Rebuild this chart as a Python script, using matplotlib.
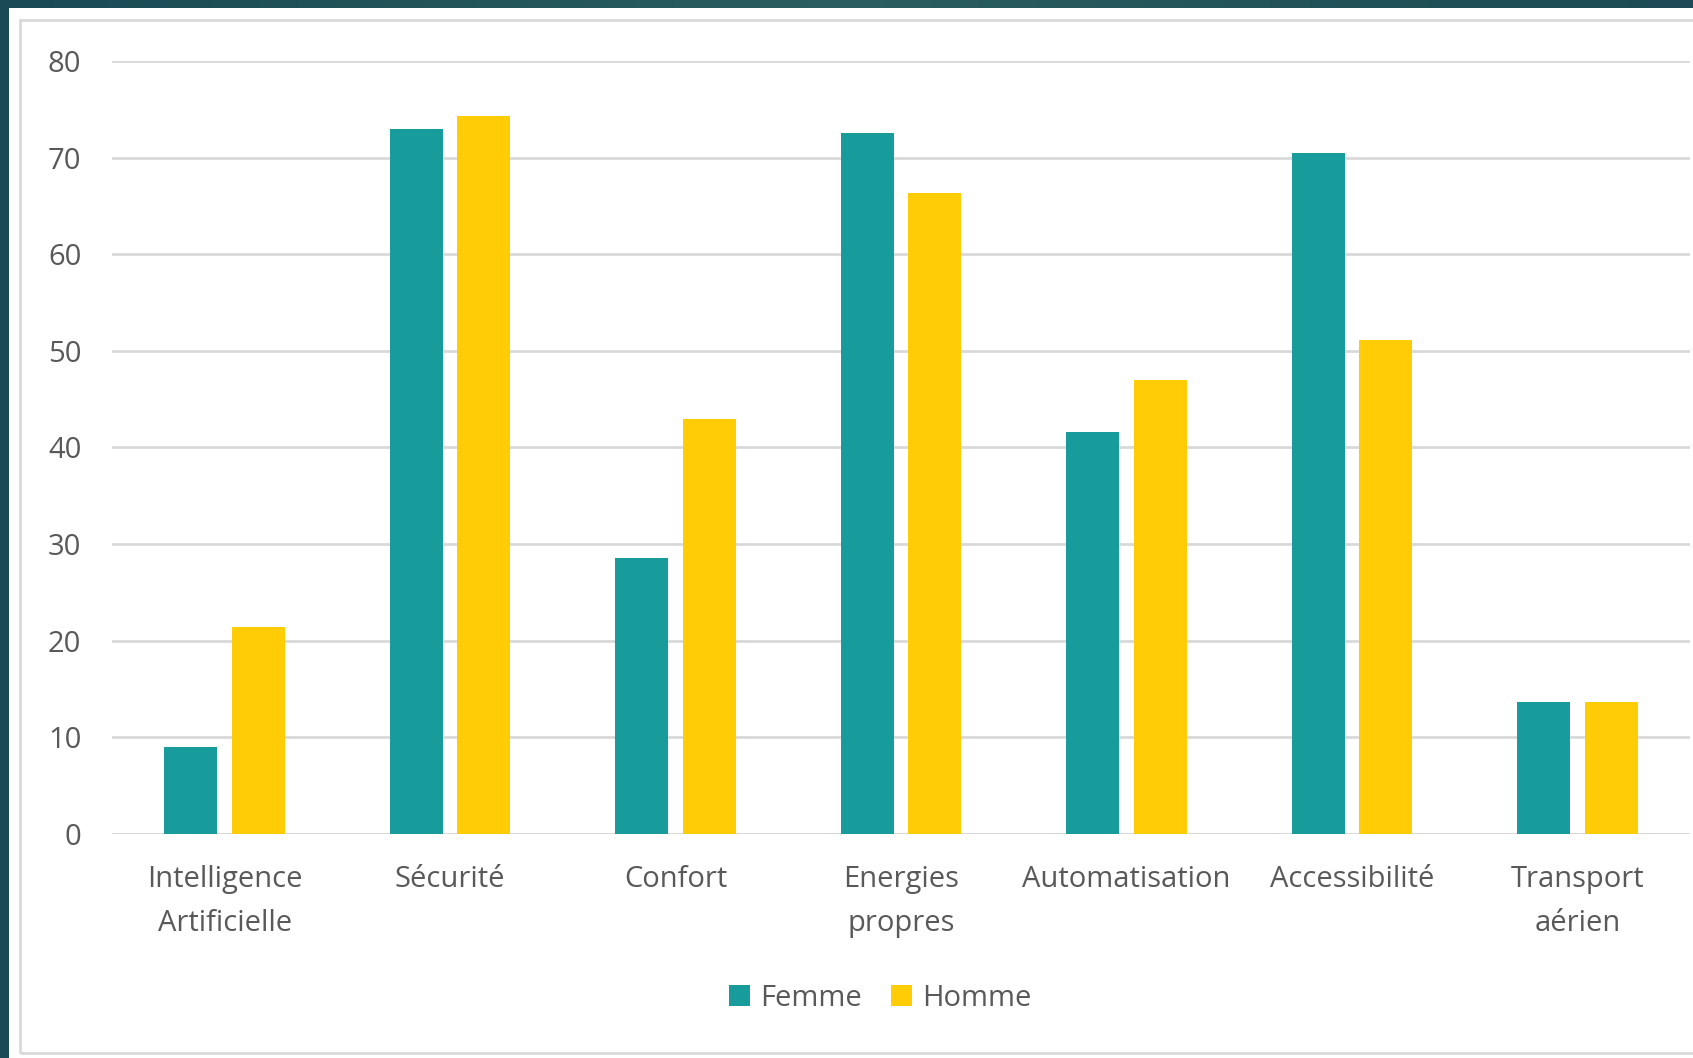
import matplotlib
matplotlib.use("Agg")
import matplotlib.pyplot as plt
import numpy as np
from matplotlib.patches import Rectangle
from matplotlib.colors import LinearSegmentedColormap

categories = ["Intelligence\nArtificielle", "Sécurité", "Confort", "Energies\npropres",
              "Automatisation", "Accessibilité", "Transport\naérien"]
femme = [9.0, 73.0, 28.6, 72.5, 41.6, 70.5, 13.7]
homme = [21.4, 74.3, 42.9, 66.3, 47.0, 51.1, 13.7]
yticks = [0, 10, 20, 30, 40, 50, 60, 70, 80]

W, H = 1693, 1058
plt.rcParams['font.family'] = ['Open Sans', 'DejaVu Sans']
fig = plt.figure(figsize=(W / 100, H / 100), dpi=100)

# background gradient
bg = fig.add_axes([0, 0, 1, 1], zorder=0)
grad = np.linspace(0, 1, 256)[None, :]
cmap = LinearSegmentedColormap.from_list("bgc", ["#1a4a54", "#2a5e60", "#1d4a54"])
bg.imshow(grad, aspect='auto', cmap=cmap, extent=[0, W, 0, H])
bg.add_patch(Rectangle((9, 0), W - 9, H - 8, facecolor="white", edgecolor="none"))
bg.add_patch(Rectangle((20, 5), W, H - 25, facecolor="none", edgecolor="#d9d9d9", linewidth=2))
bg.set_xlim(0, W)
bg.set_ylim(0, H)
bg.axis("off")

ax = fig.add_axes([112 / W, 1 - 834 / H, (1690 - 112) / W, (834 - 61) / H], zorder=1)
ax.patch.set_alpha(0)
x = np.arange(len(categories))
w = 0.235
ax.bar(x - 0.15, femme, width=w, color="#179b9b", label="Femme", zorder=3)
ax.bar(x + 0.15, homme, width=w, color="#ffcc05", label="Homme", zorder=3)

ax.set_xlim(-0.5, len(categories) - 0.5)
ax.set_ylim(0, 80)
ax.set_yticks(yticks)
ax.yaxis.grid(True, color="#d9d9d9", linewidth=2.0, zorder=0)
ax.set_axisbelow(True)
for s in ["top", "right", "left", "bottom"]:
    ax.spines[s].set_visible(False)
ax.axhline(0, color="#d9d9d9", linewidth=2.0, zorder=1)
ax.set_xticks(x)
ax.set_xticklabels(categories, linespacing=1.72)
ax.tick_params(axis="y", length=0, pad=22, labelsize=21, labelcolor="#595959")
ax.tick_params(axis="x", length=0, pad=22, labelsize=21, labelcolor="#595959")

leg = fig.legend(loc="center", bbox_to_anchor=(880 / W, 1 - 998 / H), ncol=2, frameon=False,
                 fontsize=21, handlelength=0.72, handleheight=0.72, handletextpad=0.35,
                 columnspacing=1.0, labelcolor="#595959")

fig.savefig("out.png", dpi=100)
